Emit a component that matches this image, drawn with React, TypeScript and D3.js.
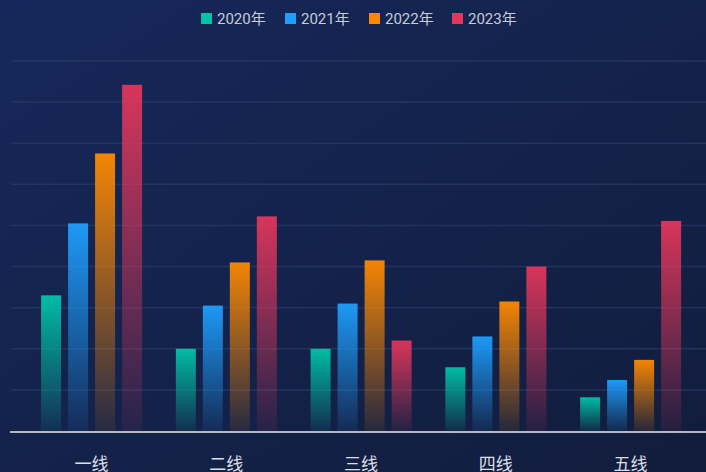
import React from 'react';
import * as d3 from 'd3';

const categories = ['一线', '二线', '三线', '四线', '五线'];
const years = ['2020年', '2021年', '2022年', '2023年'];
const colors = ['#00c4a8', '#1e9fff', '#ff8a00', '#e2365a'];
const values2020 = [33, 20, 20, 15.5, 8.2];
const values2021 = [50.5, 30.5, 31, 23, 12.4];
const values2022 = [67.5, 41, 41.5, 31.5, 17.3];
const values2023 = [84.2, 52.2, 22, 40, 51.1];
const yTicks = [0, 10, 20, 30, 40, 50, 60, 70, 80, 90];

const seriesValues = [values2020, values2021, values2022, values2023];

const width = 706;
const height = 472;

const App = () => {
    const x0 = d3.scaleBand<string>().domain(categories).range([24.2, 698]);
    const y = d3.scaleLinear().domain([0, 90]).range([431, 61]);

    const inner = d3
        .scaleBand<string>()
        .domain(years)
        .range([-50.5, 50.5])
        .paddingInner(0.26);

    const font = "Roboto, 'Noto Sans CJK SC', sans-serif";

    // legend layout
    const legendX = [201, 285, 369, 452];

    return (
        <svg
            width={width}
            height={height}
            style={{ position: 'absolute', left: 0, top: 0, display: 'block' }}
        >
            <defs>
                <linearGradient id='bg' x1='0' y1='0' x2='1' y2='1'>
                    <stop offset='0%' stopColor='#16285b' />
                    <stop offset='100%' stopColor='#121d3c' />
                </linearGradient>
                {colors.map((c, i) => (
                    <linearGradient key={i} id={`bar${i}`} x1='0' y1='0' x2='0' y2='1'>
                        <stop offset='0%' stopColor={c} stopOpacity={0.95} />
                        <stop offset='100%' stopColor={c} stopOpacity={0.08} />
                    </linearGradient>
                ))}
            </defs>
            <rect x={0} y={0} width={width} height={height} fill='url(#bg)' />

            {yTicks.slice(1).map((t) => (
                <line
                    key={t}
                    x1={11}
                    x2={width}
                    y1={y(t)}
                    y2={y(t)}
                    stroke='#2a3a66'
                    strokeOpacity={0.75}
                    strokeWidth={1.5}
                />
            ))}

            {categories.map((cat, ci) => {
                const cx = (x0(cat) as number) + x0.bandwidth() / 2;
                return (
                    <g key={cat}>
                        {years.map((yr, si) => {
                            const v = seriesValues[si][ci];
                            return (
                                <rect
                                    key={yr}
                                    x={cx + (inner(yr) as number)}
                                    y={y(v)}
                                    width={inner.bandwidth()}
                                    height={y(0) - y(v)}
                                    fill={`url(#bar${si})`}
                                />
                            );
                        })}
                        <text
                            x={cx}
                            y={470}
                            textAnchor='middle'
                            fontSize={17}
                            fill='#dcdfe6'
                            fontFamily={font}
                        >
                            {cat}
                        </text>
                    </g>
                );
            })}

            <line x1={10} x2={width} y1={432} y2={432} stroke='#b4b8c2' strokeWidth={2} />

            {years.map((yr, i) => (
                <g key={yr} transform={`translate(${legendX[i]},13)`}>
                    <rect x={0} y={0} width={11} height={11} fill={colors[i]} />
                    <text
                        x={16}
                        y={10.5}
                        fontSize={15}
                        fill='#c8ccd6'
                        fontFamily={font}
                    >
                        {yr}
                    </text>
                </g>
            ))}
        </svg>
    );
};

export default App;
